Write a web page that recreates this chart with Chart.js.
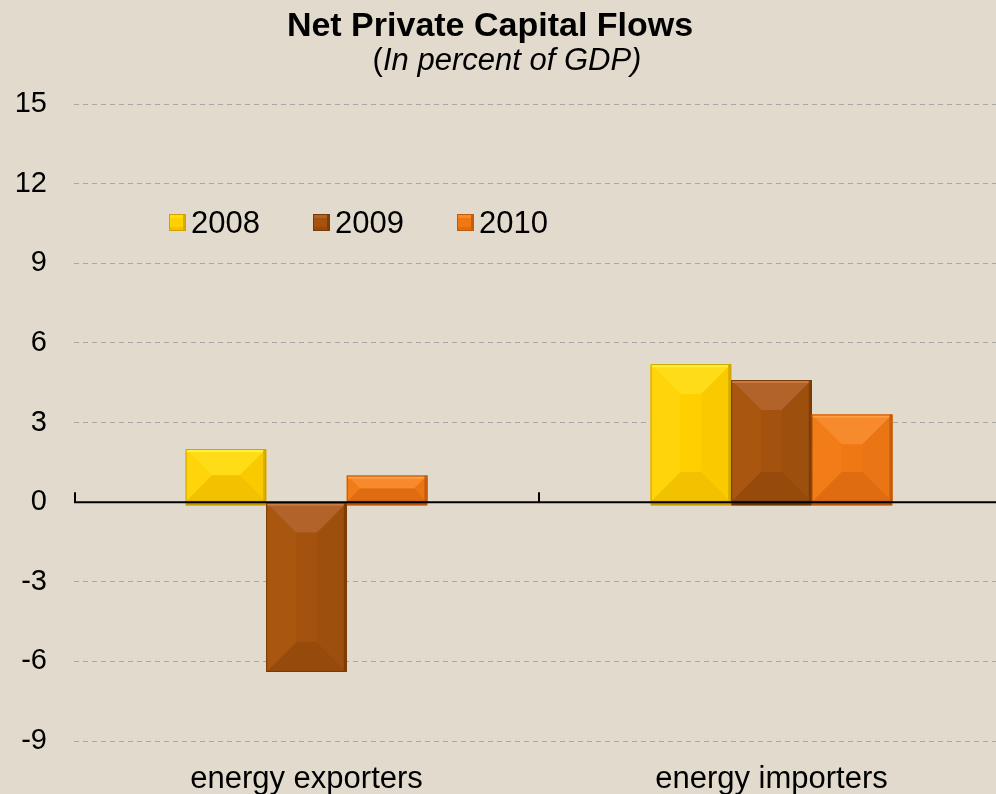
<!DOCTYPE html>
<html>
<head>
<meta charset="utf-8">
<script src="https://cdn.jsdelivr.net/npm/chart.js@4.4.1/dist/chart.umd.min.js"></script>
<style>
html,body{margin:0;padding:0;background:#e2dacd;overflow:hidden;}
#wrap{width:996px;height:794px;position:relative;overflow:hidden;}
</style>
</head>
<body>
<div id="wrap"><canvas id="c" width="1004" height="794"></canvas></div>
<script>
// ---- data ----
const categories = ['energy exporters', 'energy importers'];
const seriesLabels = ['2008', '2009', '2010'];
const values2008 = [2.0, 5.2];
const values2009 = [-6.4, 4.6];
const values2010 = [1.0, 3.3];
const yTickValues = [15, 12, 9, 6, 3, 0, -3, -6, -9];
const titleText = 'Net Private Capital Flows';
const subtitleOpen = '(';
const subtitleItalic = 'In percent of GDP)';

// ---- styles ----
const palette = [
  {base:'#ffd000', top:'#ffdc18', strip:'#fff040', bottom:'#f2c200', left:'#ffd40a', right:'#f9ca00', edge:'#d9ab00', border:'#cfa400', shadow:'#c49c00'},
  {base:'#a4520e', top:'#b2632a', strip:'#c97b42', bottom:'#964b0c', left:'#a9570f', right:'#9d4f0d', edge:'#7e3e08', border:'#7a3a08', shadow:'#6e3406'},
  {base:'#f07814', top:'#f78a2c', strip:'#ff9f42', bottom:'#e06c12', left:'#f27c18', right:'#e97514', edge:'#c85e0c', border:'#c05a0c', shadow:'#b8560c'}
];
const FONT = "'Liberation Sans', Arial, sans-serif";

const bgPlugin = {
  id:'bg',
  beforeDraw(chart){
    const ctx = chart.ctx;
    ctx.save();
    ctx.fillStyle = '#e2dacd';
    ctx.fillRect(0,0,chart.width,chart.height);
    ctx.restore();
  }
};

const decoPlugin = {
  id:'deco',
  afterDatasetsDraw(chart){
    const ctx = chart.ctx;
    const yScale = chart.scales.y;
    const y0 = yScale.getPixelForValue(0);
    chart.data.datasets.forEach((ds, di) => {
      const meta = chart.getDatasetMeta(di);
      const p = palette[di];
      meta.data.forEach(el => {
        const w = el.width;
        const l = el.x - w/2, r = el.x + w/2;
        const t = Math.min(el.y, el.base), b = Math.max(el.y, el.base);
        const h = b - t;
        const d = Math.min(w/2, h/2, 30);
        ctx.save();
        const poly = (pts, col) => {
          ctx.beginPath();
          ctx.moveTo(pts[0][0], pts[0][1]);
          for (let i=1;i<pts.length;i++) ctx.lineTo(pts[i][0], pts[i][1]);
          ctx.closePath();
          ctx.fillStyle = col; ctx.fill();
        };
        if (el.y < el.base) {
          ctx.fillStyle = p.shadow;
          ctx.fillRect(l, b, w, 4);
        }
        poly([[l,t],[r,t],[r-d,t+d],[l+d,t+d]], p.top);
        poly([[l,b],[r,b],[r-d,b-d],[l+d,b-d]], p.bottom);
        poly([[l,t],[l+d,t+d],[l+d,b-d],[l,b]], p.left);
        poly([[r,t],[r-d,t+d],[r-d,b-d],[r,b]], p.right);
        ctx.fillStyle = p.base;
        ctx.fillRect(l+d, t+d, w-2*d, h-2*d);
        ctx.fillStyle = p.strip;
        ctx.fillRect(l, t, w, Math.min(3, h));
        ctx.fillStyle = p.edge;
        ctx.fillRect(r-3, t, 3, h);
        ctx.strokeStyle = p.border; ctx.lineWidth = 1;
        ctx.strokeRect(l+0.5, t+0.5, w-1, h-1);
        ctx.restore();
      });
    });
    // zero line
    ctx.save();
    ctx.strokeStyle = '#000'; ctx.lineWidth = 2;
    ctx.beginPath();
    ctx.moveTo(chart.chartArea.left, y0);
    ctx.lineTo(chart.chartArea.right, y0);
    // category boundary ticks (pointing up)
    const catW = (chart.chartArea.right - chart.chartArea.left) / categories.length;
    for (let i=0;i<=categories.length;i++){
      let x = chart.chartArea.left + i*catW;
      if (i===0) x += 1;
      ctx.moveTo(x, y0);
      ctx.lineTo(x, y0 - 10);
    }
    ctx.stroke();
    ctx.restore();
  },
  afterDraw(chart){
    const ctx = chart.ctx;
    ctx.save();
    ctx.fillStyle = '#000';
    ctx.textBaseline = 'alphabetic';
    // title
    ctx.font = 'bold 34px ' + FONT;
    ctx.textAlign = 'center';
    ctx.fillText(titleText, 490, 36);
    // subtitle mixed style
    ctx.textAlign = 'left';
    ctx.font = '31px ' + FONT;
    const w1 = ctx.measureText(subtitleOpen).width;
    ctx.font = 'italic 31px ' + FONT;
    const w2 = ctx.measureText(subtitleItalic).width;
    const sx = 507 - (w1 + w2)/2;
    ctx.font = '31px ' + FONT;
    ctx.fillText(subtitleOpen, sx, 70);
    ctx.font = 'italic 31px ' + FONT;
    ctx.fillText(subtitleItalic, sx + w1, 70);
    // legend
    ctx.font = '31px ' + FONT;
    ctx.textBaseline = 'middle';
    chart.data.datasets.forEach((ds, i) => {
      const x0 = 169 + i*144, yb = 214;
      const p = palette[i];
      ctx.fillStyle = p.base; ctx.fillRect(x0, yb, 17, 17);
      ctx.fillStyle = p.top; ctx.fillRect(x0, yb, 17, 4);
      ctx.fillStyle = p.bottom; ctx.fillRect(x0, yb+13, 17, 4);
      ctx.fillStyle = p.edge; ctx.fillRect(x0+14, yb, 3, 17);
      ctx.strokeStyle = p.border; ctx.lineWidth = 1; ctx.strokeRect(x0+0.5, yb+0.5, 16, 16);
      ctx.fillStyle = '#000';
      ctx.fillText(ds.label, x0 + 22, 224);
    });
    ctx.restore();
  }
};

const datasets = [values2008, values2009, values2010].map((vals, i) => ({
  label: seriesLabels[i],
  data: vals,
  backgroundColor: palette[i].base,
  borderWidth: 0,
  categoryPercentage: 0.52,
  barPercentage: 1.0
}));

new Chart(document.getElementById('c'), {
  type: 'bar',
  data: { labels: categories, datasets },
  options: {
    responsive: false,
    animation: false,
    devicePixelRatio: 1,
    layout: { padding: { top: 104, right: 0, left: 0, bottom: 0 } },
    plugins: { legend: { display: false }, title: { display: false }, tooltip: { enabled: false } },
    scales: {
      x: {
        grid: { display: false },
        border: { display: false },
        ticks: { color: '#000', font: { family: FONT, size: 31 }, padding: 12, maxRotation: 0 },
        afterFit(s){ s.height = 53; }
      },
      y: {
        min: -9, max: 15,
        afterBuildTicks(s){ s.ticks = yTickValues.map(v => ({ value: v })); },
        grid: {
          drawTicks: false,
          color: ctx => (ctx.tick && ctx.tick.value === 0) ? 'rgba(0,0,0,0)' : '#a7a7a7',
          lineWidth: 1
        },
        border: { display: false, dash: [5, 4] },
        ticks: { color: '#000', font: { family: FONT, size: 29 }, padding: 27 },
        afterFit(s){ s.width = 74; }
      }
    }
  },
  plugins: [bgPlugin, decoPlugin]
});
</script>
</body>
</html>
